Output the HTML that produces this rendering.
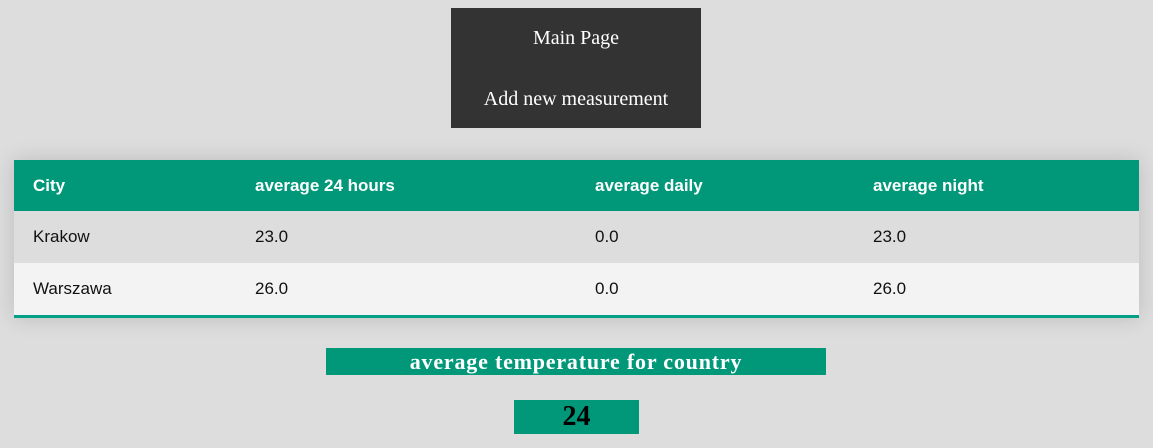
<!DOCTYPE html>
<html>
<head>
<meta charset="utf-8">
<style>
  html,body{margin:0;padding:0;}
  body{width:1153px;height:448px;background:#dddddd;position:relative;overflow:hidden;font-family:"Liberation Serif",serif;}
  .nav{position:absolute;left:451px;top:8px;width:250px;height:120px;background:#333333;}
  .nav a{position:absolute;left:0;width:250px;text-align:center;color:#fff;font-size:20px;text-decoration:none;font-family:"Liberation Serif",serif;}
  .tbl{position:absolute;left:14px;top:160px;width:1125px;border-collapse:collapse;font-family:"Liberation Sans",sans-serif;font-size:17px;box-shadow:0 0 20px rgba(0,0,0,0.15);border-bottom:3px solid #00a084;}
  .tbl th{background:#009879;color:#fff;text-align:left;font-weight:bold;height:51px;padding:0 0 0 19px;}
  .tbl td{height:52px;padding:0 0 0 19px;color:#111;}
  .tbl tr.r1 td{background:#dddddd;}
  .tbl tr.r2 td{background:#f3f3f3;}
  .title{position:absolute;left:326px;top:348px;width:500px;height:27px;background:#009879;color:#fff;font-weight:bold;font-size:22px;letter-spacing:0.8px;text-align:center;line-height:27px;}
  .val{position:absolute;left:514px;top:400px;width:125px;height:34px;background:#009879;color:#000;font-weight:bold;font-size:28px;text-align:center;line-height:34px;}
</style>
</head>
<body>
<div class="nav">
  <a href="#" style="top:19px">Main Page</a>
  <a href="#" style="top:80px">Add new measurement</a>
</div>
<table class="tbl">
  <colgroup><col style="width:222px"><col style="width:340px"><col style="width:278px"><col></colgroup>
  <tr>
    <th>City</th>
    <th>average 24 hours</th>
    <th>average daily</th>
    <th>average night</th>
  </tr>
  <tr class="r1">
    <td>Krakow</td>
    <td>23.0</td>
    <td>0.0</td>
    <td>23.0</td>
  </tr>
  <tr class="r2">
    <td>Warszawa</td>
    <td>26.0</td>
    <td>0.0</td>
    <td>26.0</td>
  </tr>
</table>
<div class="title">average temperature for country</div>
<div class="val">24</div>
</body>
</html>
